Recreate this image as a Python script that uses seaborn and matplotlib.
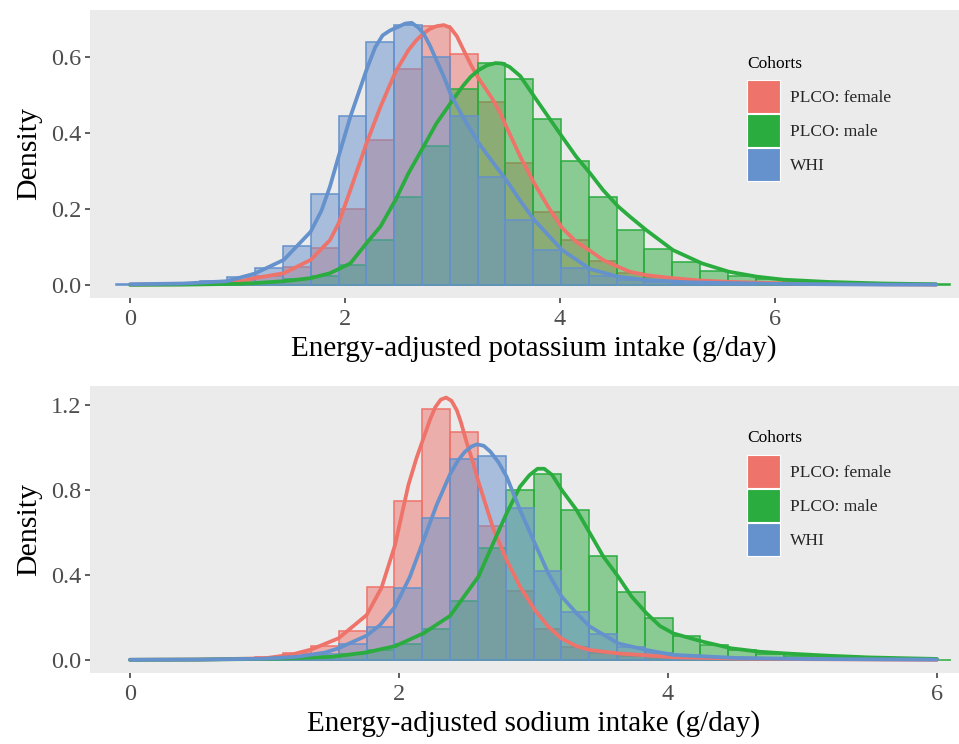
import numpy as np
import pandas as pd
import matplotlib
matplotlib.use("Agg")
import matplotlib.pyplot as plt
from matplotlib.colors import to_rgba
from matplotlib.patches import Patch
import seaborn as sns

# ---- data -----------------------------------------------------------------
COHORTS = ["PLCO: female", "PLCO: male", "WHI"]
COLORS = ["#EE736A", "#2BAC3F", "#6591CC"]

# potassium: 30 bins, centres k * 7.5/29
K_BIN_WIDTH = 7.5 / 29
K_FEMALE = [0.001, 0.002, 0.003, 0.006, 0.012, 0.025, 0.048, 0.097, 0.200, 0.382,
            0.569, 0.681, 0.607, 0.481, 0.322, 0.193, 0.118, 0.063, 0.031, 0.020,
            0.012, 0.008, 0.005, 0.003, 0.002, 0.002, 0.001, 0.001, 0.001, 0.001]
K_MALE = [0.001, 0.001, 0.001, 0.002, 0.004, 0.008, 0.015, 0.025, 0.053, 0.118,
          0.232, 0.366, 0.517, 0.583, 0.541, 0.437, 0.327, 0.231, 0.146, 0.094,
          0.061, 0.038, 0.024, 0.015, 0.010, 0.007, 0.005, 0.003, 0.002, 0.002]
K_WHI = [0.002, 0.003, 0.005, 0.010, 0.022, 0.045, 0.103, 0.239, 0.445, 0.639,
         0.685, 0.600, 0.445, 0.284, 0.170, 0.091, 0.044, 0.025, 0.014, 0.009,
         0.005, 0.003, 0.002, 0.001, 0.001, 0.001, 0.001, 0.001, 0.000, 0.000]

# potassium density curves
K_FEMALE_X = [0.0, 0.5, 1.0, 1.16, 1.43, 1.68, 1.86, 1.94, 2.05, 2.20, 2.33, 2.47, 2.59,
              2.66, 2.73, 2.79, 2.85, 2.92, 2.98, 3.04, 3.10, 3.17, 3.24, 3.30, 3.37,
              3.44, 3.50, 3.63, 3.76, 3.89, 4.02, 4.15, 4.28, 4.40, 4.54, 4.65, 4.80,
              5.05, 5.30, 5.60, 6.0, 7.0, 7.5]
K_FEMALE_Y = [0.001, 0.002, 0.008, 0.018, 0.031, 0.066, 0.118, 0.162, 0.250, 0.373, 0.469,
              0.561, 0.618, 0.643, 0.662, 0.674, 0.681, 0.684, 0.677, 0.655, 0.620, 0.580,
              0.545, 0.520, 0.490, 0.455, 0.417, 0.338, 0.268, 0.206, 0.150, 0.114, 0.090,
              0.066, 0.048, 0.035, 0.026, 0.018, 0.012, 0.008, 0.005, 0.002, 0.001]
K_MALE_X = [0.0, 0.5, 1.0, 1.16, 1.43, 1.68, 1.86, 2.05, 2.20, 2.33, 2.47, 2.59, 2.73,
            2.85, 2.98, 3.10, 3.17, 3.24, 3.32, 3.40, 3.46, 3.53, 3.63, 3.76, 3.89, 4.02,
            4.15, 4.28, 4.40, 4.54, 4.65, 4.80, 5.05, 5.32, 5.57, 5.83, 6.08, 6.5, 7.0,
            7.5]
K_MALE_Y = [0.0005, 0.001, 0.003, 0.005, 0.010, 0.018, 0.031, 0.057, 0.110, 0.154, 0.224,
            0.294, 0.364, 0.425, 0.478, 0.525, 0.548, 0.565, 0.578, 0.584, 0.583, 0.574,
            0.550, 0.496, 0.443, 0.390, 0.338, 0.294, 0.250, 0.207, 0.180, 0.145, 0.092,
            0.057, 0.035, 0.022, 0.014, 0.008, 0.004, 0.002]
K_WHI_X = [0.0, 0.5, 0.9, 1.16, 1.43, 1.68, 1.78, 1.86, 1.94, 2.05, 2.20, 2.28, 2.35,
           2.42, 2.50, 2.56, 2.62, 2.68, 2.73, 2.79, 2.85, 2.92, 2.98, 3.10, 3.24, 3.37,
           3.50, 3.63, 3.76, 4.02, 4.28, 4.54, 4.80, 5.2, 6.0, 7.0, 7.5]
K_WHI_Y = [0.002, 0.004, 0.010, 0.030, 0.066, 0.140, 0.195, 0.259, 0.338, 0.443, 0.566,
           0.625, 0.657, 0.670, 0.680, 0.688, 0.690, 0.678, 0.662, 0.630, 0.592, 0.548,
           0.504, 0.440, 0.375, 0.325, 0.276, 0.222, 0.171, 0.092, 0.042, 0.022, 0.013,
           0.007, 0.003, 0.001, 0.001]

# sodium: 30 bins, centres k * 6/29
NA_BIN_WIDTH = 6.0 / 29
NA_FEMALE = [0.001, 0.001, 0.002, 0.003, 0.007, 0.015, 0.031, 0.067, 0.138, 0.345,
             0.748, 1.180, 1.071, 0.631, 0.325, 0.144, 0.063, 0.031, 0.019, 0.010,
             0.006, 0.004, 0.003, 0.002, 0.001, 0.001, 0.001, 0.001, 0.000, 0.000]
NA_MALE = [0.001, 0.001, 0.001, 0.002, 0.003, 0.005, 0.008, 0.015, 0.027, 0.047,
           0.077, 0.146, 0.278, 0.528, 0.800, 0.874, 0.706, 0.491, 0.322, 0.199,
           0.113, 0.071, 0.047, 0.030, 0.020, 0.013, 0.008, 0.005, 0.003, 0.002]
NA_WHI = [0.001, 0.001, 0.002, 0.003, 0.004, 0.008, 0.015, 0.030, 0.074, 0.154,
          0.340, 0.670, 0.948, 0.960, 0.714, 0.419, 0.227, 0.121, 0.063, 0.031,
          0.016, 0.010, 0.006, 0.004, 0.003, 0.002, 0.001, 0.001, 0.001, 0.001]

NA_FEMALE_X = [0.0, 0.5, 1.0, 1.2, 1.35, 1.55, 1.76, 1.87, 1.97, 2.07, 2.13, 2.18, 2.23,
               2.27, 2.31, 2.35, 2.39, 2.43, 2.46, 2.50, 2.55, 2.59, 2.65, 2.70, 2.80,
               2.90, 3.01, 3.11, 3.21, 3.32, 3.42, 3.63, 3.84, 4.04, 4.5, 5.0, 6.0]
NA_FEMALE_Y = [0.001, 0.002, 0.008, 0.025, 0.050, 0.102, 0.212, 0.340, 0.540, 0.824, 0.950,
               1.040, 1.130, 1.190, 1.225, 1.235, 1.220, 1.175, 1.120, 1.030, 0.930, 0.840,
               0.720, 0.620, 0.471, 0.345, 0.235, 0.157, 0.100, 0.065, 0.047, 0.031, 0.022,
               0.013, 0.007, 0.004, 0.001]
NA_MALE_X = [0.0, 0.5, 1.0, 1.5, 1.76, 1.86, 1.97, 2.18, 2.38, 2.59, 2.70, 2.80, 2.90,
             2.97, 3.03, 3.08, 3.14, 3.21, 3.32, 3.42, 3.52, 3.63, 3.73, 3.84, 3.94, 4.04,
             4.26, 4.47, 4.68, 4.9, 5.2, 5.5, 6.0]
NA_MALE_Y = [0.001, 0.002, 0.005, 0.015, 0.036, 0.050, 0.065, 0.125, 0.208, 0.392, 0.549,
             0.690, 0.816, 0.870, 0.900, 0.900, 0.870, 0.800, 0.706, 0.596, 0.486, 0.392,
             0.298, 0.220, 0.160, 0.125, 0.086, 0.055, 0.039, 0.030, 0.020, 0.012, 0.005]
NA_WHI_X = [0.0, 0.5, 1.0, 1.24, 1.45, 1.55, 1.76, 1.86, 1.97, 2.08, 2.18, 2.28, 2.38,
            2.44, 2.49, 2.54, 2.58, 2.63, 2.68, 2.74, 2.80, 2.90, 3.01, 3.11, 3.21, 3.32,
            3.42, 3.63, 3.84, 4.04, 4.5, 5.0, 6.0]
NA_WHI_Y = [0.001, 0.002, 0.006, 0.015, 0.035, 0.055, 0.115, 0.165, 0.250, 0.390, 0.560,
            0.730, 0.875, 0.940, 0.980, 1.005, 1.015, 1.008, 0.980, 0.930, 0.863, 0.706,
            0.549, 0.408, 0.298, 0.220, 0.157, 0.078, 0.047, 0.024, 0.010, 0.005, 0.002]


sns.set_theme(style="dark")
plt.rcParams["font.family"] = ["Liberation Serif", "DejaVu Serif"]
PANEL_BG = "#EBEBEB"
TICK_COLOR = "#333333"
LABEL_COLOR = "#4D4D4D"

# panel spans 90 px .. 977 px (right part is cut by the image edge, as in the original)
PANEL_LEFT, PANEL_RIGHT = 90, 977
X0_PX = 130
LEGEND_X = (747 - PANEL_LEFT) / (PANEL_RIGHT - PANEL_LEFT)


def draw_panel(ax, bin_width, px_per_unit, bars, curves, ylim, yticks, xlabel,
               title_y, keys_y):
    ax.set_facecolor(PANEL_BG)
    centers = np.arange(30) * bin_width
    lo, hi = -bin_width / 2, 29.5 * bin_width

    for heights, color in zip(bars, COLORS):
        df = pd.DataFrame({"x": centers, "w": heights})
        n_before = len(ax.patches)
        sns.histplot(data=df, x="x", weights="w", binwidth=bin_width, binrange=(lo, hi),
                     stat="count", ax=ax, color=color, alpha=0.5, edgecolor=color,
                     linewidth=1.1)
        for patch in ax.patches[n_before:]:
            patch.set_alpha(None)
            patch.set_facecolor(to_rgba(color, 0.5))
            patch.set_edgecolor(color)
            if patch.get_height() < 0.0015:
                patch.set_linewidth(0)

    for (cx, cy), color in zip(curves, COLORS):
        sns.lineplot(x=cx, y=cy, ax=ax, color=color, linewidth=2.7,
                     solid_capstyle="round", solid_joinstyle="round", sort=False)

    ax.set_xlim((PANEL_LEFT - X0_PX) / px_per_unit, (PANEL_RIGHT - X0_PX) / px_per_unit)
    ax.set_ylim(*ylim)
    ax.set_xticks([0, 2, 4, 6])
    ax.set_xticklabels(["0", "2", "4", "6"])
    ax.set_yticks(yticks)
    ax.set_yticklabels([f"{v:.1f}" for v in yticks])
    ax.tick_params(axis="both", which="major", length=3.8, width=1.1, color=TICK_COLOR,
                   labelcolor=LABEL_COLOR, labelsize=17.5, bottom=True, left=True)
    ax.tick_params(axis="x", pad=4.5)
    ax.tick_params(axis="y", pad=2.5)
    ax.grid(False)
    for side in ax.spines.values():
        side.set_visible(False)
    ax.set_xlabel(xlabel, fontsize=21, color="black", labelpad=3.5)
    ax.set_ylabel("Density", fontsize=21.5, color="black", labelpad=6)

    # legend: title as plain text, keys as a borderless legend below it
    ax.text(LEGEND_X, title_y, "Cohorts", transform=ax.transAxes, ha="left", va="center",
            fontsize=12.5, color="black")
    handles = [Patch(facecolor=c, edgecolor="white", linewidth=0.8) for c in COLORS]
    ax.legend(handles, COHORTS, loc="upper left", bbox_to_anchor=(LEGEND_X, keys_y),
              frameon=False, fontsize=12.5, handlelength=1.9, handleheight=2.55,
              labelspacing=0.06, handletextpad=0.6, borderpad=0, borderaxespad=0)


fig = plt.figure(figsize=(9.59, 7.44), dpi=100)
panel_w = (PANEL_RIGHT - PANEL_LEFT) / 959
ax_top = fig.add_axes([PANEL_LEFT / 959, (744 - 297.5) / 744, panel_w, 287.5 / 744])
ax_bot = fig.add_axes([PANEL_LEFT / 959, (744 - 672.7) / 744, panel_w, 286.7 / 744])

draw_panel(
    ax_top, K_BIN_WIDTH, 107.5, [K_FEMALE, K_MALE, K_WHI],
    [(K_FEMALE_X, K_FEMALE_Y), (K_MALE_X, K_MALE_Y), (K_WHI_X, K_WHI_Y)],
    ylim=(-12.5 / 380, 275 / 380), yticks=[0.0, 0.2, 0.4, 0.6],
    xlabel="Energy-adjusted potassium intake (g/day)",
    title_y=(297.5 - 64) / 287.5, keys_y=(297.5 - 80) / 287.5,
)
draw_panel(
    ax_bot, NA_BIN_WIDTH, 134.5, [NA_FEMALE, NA_MALE, NA_WHI],
    [(NA_FEMALE_X, NA_FEMALE_Y), (NA_MALE_X, NA_MALE_Y), (NA_WHI_X, NA_WHI_Y)],
    ylim=(-12.7 / 212.5, 274 / 212.5), yticks=[0.0, 0.4, 0.8, 1.2],
    xlabel="Energy-adjusted sodium intake (g/day)",
    title_y=(672.7 - 438) / 286.7, keys_y=(672.7 - 455) / 286.7,
)

fig.savefig("out.png", dpi=100, facecolor="white")
plt.close(fig)
